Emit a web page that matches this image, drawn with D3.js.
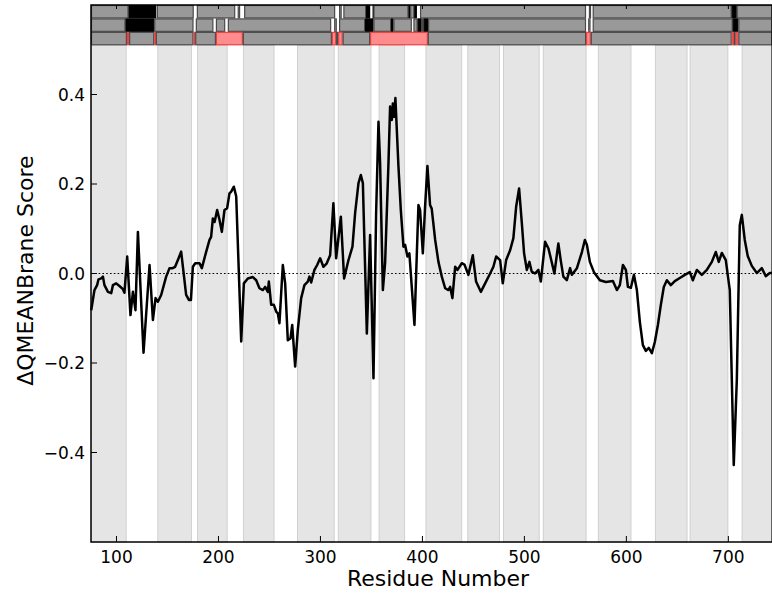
<!DOCTYPE html>
<html>
<head>
<meta charset="utf-8">
<script src="https://cdn.jsdelivr.net/npm/d3@7"></script>
<style>
  html, body { margin: 0; padding: 0; background: #fff; }
  svg { display: block; }
  text { font-family: "DejaVu Sans", sans-serif; fill: #000; }
</style>
</head>
<body>
<svg id="chart" width="772" height="594"></svg>
<script>
// Per-residue score profile (residue number, score)
const residues = [
  75.2, 78.4, 81, 82.4, 85, 86.7, 88.2, 91.6, 94.8, 96.5, 99.7, 102.9, 106.3, 107.8,
  110.5, 113.7, 116.1, 118.6, 121, 126.5, 132.4, 135.7, 138.3, 140.6, 143.8, 148.7,
  152, 155, 157.5, 160.2, 163.4, 168.3, 171, 173, 174.9, 177.2, 181.4, 183.7, 188,
  191.2, 192.8, 194.5, 196.2, 198.7, 201, 203.3, 205.9, 208.5, 210.8, 212.5, 215.1,
  217.4, 222.3, 224.9, 228.8, 233.7, 237, 240.2, 243.5, 245.8, 248.4, 249.4, 251.7,
  254.3, 256.6, 258.2, 259.8, 263.1, 265.4, 268, 270.6, 272.3, 275.2, 277.8, 281.1,
  284.3, 287.6, 289.2, 290.9, 294.1, 296.8, 299.7, 302.9, 306, 309.5, 312.7, 315.4,
  320, 323.2, 327.5, 331.4, 334, 337.3, 339.6, 341.6, 345.5, 348.7, 352, 354.6,
  356.9, 358.5, 361.2, 363.4, 366.7, 368.3, 370, 371, 372.3, 373.5, 376.5, 378.8,
  381.4, 383, 385.3, 387.2, 392.2, 396.1, 397.7, 400.4, 402.6, 404.9, 407.5, 409.1,
  412.5, 415.7, 419, 422.3, 425.5, 427.2, 429.4, 432.1, 434.4, 438.6, 441.2, 445.1,
  449.4, 452.6, 457.3, 461.5, 466.4, 469.6, 472.3, 476.2, 478.8, 482.1, 486, 489.2,
  491.9, 494.8, 497.5, 499.7, 502.4, 504.9, 507.2, 510.4, 513.7, 516.1, 520.3, 523.6,
  525.9, 529.4, 533.3, 535.6, 538.2, 541.6, 544.8, 546.6, 551.5, 556.4, 559.3, 561.3,
  564.2, 568.2, 574.0, 579.9, 586.8, 590.7, 593.6, 596.6, 599.5, 601.5, 604.4, 607.4,
  610.3, 613.2, 616.2, 619.1, 622.0, 625.0, 627.9, 630.9, 633.8, 636.7, 639.7, 643.6,
  647.5, 652.4, 657.3, 662.2, 665.2, 669.1, 674.0, 678.9, 683.8, 687.7, 690.6, 693.6,
  697.5, 701.4, 705.3, 708.3, 711.2, 713.2, 716.1, 719.0, 723.0, 727.9, 732.8, 736.7, 740.6, 742.9
];
const scores = [
  -0.082, -0.037, -0.026, -0.013, -0.011, -0.007, -0.026, -0.041, -0.044, -0.026, -0.022, -0.028, -0.035, -0.043,
  0.038, -0.093, -0.041, -0.082, 0.093, -0.177, 0.019, -0.104, -0.055, -0.063, -0.048, -0.007,
  0.012, 0.012, 0.015, 0.030, 0.049, -0.048, -0.059, -0.059, 0.015, 0.023, 0.023, 0.012, 0.049,
  0.075, 0.082, 0.123, 0.115, 0.142, 0.120, 0.093, 0.142, 0.146, 0.179, 0.183, 0.194,
  0.172, -0.152, -0.022, -0.011, -0.008, -0.015, -0.033, -0.037, -0.030, -0.041, -0.018, -0.070,
  -0.070, -0.085, -0.089, -0.111, 0.019, -0.022, -0.149, -0.145, -0.115, -0.208, -0.126, -0.055,
  -0.026, -0.018, -0.007, -0.020, 0.008, 0.019, 0.034, 0.015, 0.022, 0.041, 0.157, 0.034,
  0.127, -0.011, 0.030, 0.060, 0.135, 0.202, 0.220, 0.202, -0.134, 0.086, -0.234, 0.135,
  0.339, 0.246, -0.037, 0.023, 0.246, 0.373, 0.343, 0.380, 0.350, 0.392, 0.239, 0.142,
  0.060, 0.064, 0.038, 0.045, -0.115, 0.153, 0.142, 0.045, 0.149, 0.240, 0.153, 0.145,
  0.075, 0.026, -0.007, -0.033, -0.037, -0.030, -0.055, 0.015, 0.008, 0.023, 0.020, -0.003,
  0.041, -0.018, -0.041, -0.022, 0.000, 0.015, 0.038, 0.030, -0.022, 0.030, 0.052, 0.079,
  0.149, 0.190, 0.112, 0.045, 0.008, 0.026, 0.004, 0.000, 0.008, -0.018, 0.071, 0.056,
  0.034, 0.000, 0.067, 0.030, -0.007, -0.015, 0.012, -0.003, 0.012, 0.048, 0.075, 0.064,
  0.026, 0.003, -0.015, -0.019, -0.017, -0.037, -0.026, 0.019, 0.008, -0.030, -0.032, -0.003,
  -0.037, -0.108, -0.160, -0.173, -0.166, -0.178, -0.153, -0.115, -0.070, -0.030, -0.015, -0.026,
  -0.017, -0.010, -0.003, 0.003, -0.015, 0.008, -0.003, 0.008, 0.026, 0.048, 0.026, 0.046,
  0.030, -0.037, -0.428, -0.238, 0.108, 0.131, 0.075, 0.039, 0.017, 0.001, 0.012, -0.006, 0.001, 0.001
];

// Membrane-spanning segments shaded in the background
const helixStart = [75, 140, 179, 224, 277, 317, 357, 403, 444, 479, 518, 572, 628, 662, 713];
const helixEnd   = [110, 174, 209, 255, 314, 350, 383, 439, 476, 515, 561, 605, 660, 700, 743];

// Annotation tracks above the profile: [start, end, kind] (g = gray, k = black, r = red)
const track1 = [
  [75, 111.8, "g"], [111.8, 138.9, "k"], [139.6, 175.7, "g"], [178.8, 216.4, "g"],
  [218.9, 221.2, "g"], [225.2, 314.4, "g"], [318.3, 320.8, "g"], [322.5, 344.8, "g"],
  [344.8, 348.7, "k"], [351.2, 352, "k"], [352, 386.3, "g"], [386.3, 388, "k"], [388, 392, "g"],
  [392, 394.5, "k"], [397.7, 560.4, "g"], [563.3, 565.3, "g"], [567, 703.3, "g"],
  [703.3, 708.2, "k"], [708.2, 743, "g"]
];
const track2 = [
  [75, 108.8, "g"], [108.8, 137, "k"], [137, 175.5, "g"], [177.8, 195, "g"],
  [197.5, 206.6, "g"], [209.2, 310.5, "g"], [313.5, 316, "g"], [318.3, 343.8, "g"],
  [343.8, 352, "k"], [352, 369.3, "g"], [369.3, 371.6, "k"], [371.6, 389.6, "g"],
  [391.2, 395.3, "g"], [395.3, 399.2, "k"], [399.2, 401.2, "g"], [401.2, 405.6, "k"],
  [405.6, 560.4, "g"], [562.6, 564.8, "g"], [567, 704.3, "g"], [704.3, 709.8, "k"],
  [709.8, 743, "g"]
];
const track3 = [
  [75, 110.2, "g"], [110.2, 112.4, "r"], [112.4, 137, "g"], [137, 138.6, "r"],
  [138.6, 175.5, "g"], [175.5, 177.2, "r"], [177.2, 197.5, "g"], [197.5, 223.9, "r"],
  [223.9, 311.2, "g"], [311.2, 315.4, "r"], [315.4, 317.4, "g"], [317.4, 321.8, "r"],
  [321.8, 348.7, "g"], [348.7, 405.3, "r"], [405.3, 560.5, "g"], [560.5, 565.1, "r"],
  [565.1, 703.3, "g"], [703.3, 705.6, "r"], [705.6, 707.2, "g"], [707.2, 709.8, "r"],
  [709.8, 743, "g"]
];
const tracks = [track1, track2, track3];
const trackTop = [0.6, 0.57, 0.54];

const xTicks = [100, 200, 300, 400, 500, 600, 700];
const yTicks = [-0.4, -0.2, 0.0, 0.2, 0.4];

const svg = d3.select("#chart");
const plotLeft = 91, plotRight = 772.2, plotTop = 5, plotBottom = 542;

const x = d3.scaleLinear().domain([75, 743]).range([plotLeft, plotRight]);
const y = d3.scaleLinear().domain([-0.6, 0.6]).range([plotBottom, plotTop]);

// shaded membrane segments
svg.append("g").selectAll("rect")
  .data(helixStart.map((s, i) => [s, helixEnd[i]]))
  .join("rect")
  .attr("x", d => x(d[0]) + 0.5)
  .attr("width", d => x(d[1]) - x(d[0]) - 1)
  .attr("y", y(0.51))
  .attr("height", y(-0.6) - y(0.51))
  .attr("fill", "#e5e5e5")
  .attr("stroke", "#d0d0d0")
  .attr("stroke-width", 1);

// zero reference
svg.append("line")
  .attr("x1", x(75)).attr("x2", x(743))
  .attr("y1", y(0)).attr("y2", y(0))
  .attr("stroke", "#000").attr("stroke-width", 1.1)
  .attr("stroke-dasharray", "1.6,2.2");

// score profile
const line = d3.line().x(d => x(d[0])).y(d => y(d[1]));
svg.append("path")
  .datum(residues.map((r, i) => [r, scores[i]]))
  .attr("d", line)
  .attr("fill", "none")
  .attr("stroke", "#000")
  .attr("stroke-width", 2.5)
  .attr("stroke-linejoin", "round");

// annotation tracks
const fills = { g: "#999999", k: "#000000", r: "#ff8c8c" };
const strokes = { g: "#4a4a4a", k: "#000000", r: "#e8403f" };
tracks.forEach((trk, ti) => {
  const y0 = y(trackTop[ti]), y1 = y(trackTop[ti] - 0.03);
  svg.append("g").selectAll("rect")
    .data(trk)
    .join("rect")
    .attr("x", d => x(d[0]) + 0.5)
    .attr("width", d => Math.max(0.5, x(d[1]) - x(d[0]) - 1))
    .attr("y", y0 + 0.5)
    .attr("height", y1 - y0 - 1)
    .attr("fill", d => fills[d[2]])
    .attr("stroke", d => strokes[d[2]])
    .attr("stroke-width", 1.2);
});

// frame
svg.append("rect")
  .attr("x", plotLeft).attr("y", plotTop)
  .attr("width", plotRight - plotLeft).attr("height", plotBottom - plotTop)
  .attr("fill", "none").attr("stroke", "#000").attr("stroke-width", 1.5);

// ticks, drawn inward
const tickLen = 6;
svg.append("g").selectAll("line")
  .data(xTicks).join("line")
  .attr("x1", d => x(d)).attr("x2", d => x(d))
  .attr("y1", plotBottom).attr("y2", plotBottom - tickLen)
  .attr("stroke", "#000").attr("stroke-width", 1);
svg.append("g").selectAll("line")
  .data(xTicks).join("line")
  .attr("x1", d => x(d)).attr("x2", d => x(d))
  .attr("y1", plotTop).attr("y2", plotTop + 4)
  .attr("stroke", "#000").attr("stroke-width", 1);
svg.append("g").selectAll("line")
  .data(yTicks).join("line")
  .attr("x1", plotLeft).attr("x2", plotLeft + tickLen)
  .attr("y1", d => y(d)).attr("y2", d => y(d))
  .attr("stroke", "#000").attr("stroke-width", 1);

// tick labels
const fmt = v => (v < 0 ? "\u2212" : "") + Math.abs(v).toFixed(1);
svg.append("g").selectAll("text")
  .data(xTicks).join("text")
  .attr("x", d => x(d)).attr("y", 563)
  .attr("text-anchor", "middle")
  .attr("font-size", 17)
  .text(d => d);
svg.append("g").selectAll("text")
  .data(yTicks).join("text")
  .attr("x", 85).attr("y", d => y(d))
  .attr("dy", "0.36em")
  .attr("text-anchor", "end")
  .attr("font-size", 17)
  .text(fmt);

// axis titles
svg.append("text")
  .attr("x", (plotLeft + 771) / 2 + 7).attr("y", 586)
  .attr("text-anchor", "middle")
  .attr("font-size", 22)
  .text("Residue Number");
svg.append("text")
  .attr("transform", `translate(33,${(y(0.51) + plotBottom) / 2 - 23}) rotate(-90)`)
  .attr("text-anchor", "middle")
  .attr("font-size", 22)
  .text("\u0394QMEANBrane Score");
</script>
</body>
</html>
